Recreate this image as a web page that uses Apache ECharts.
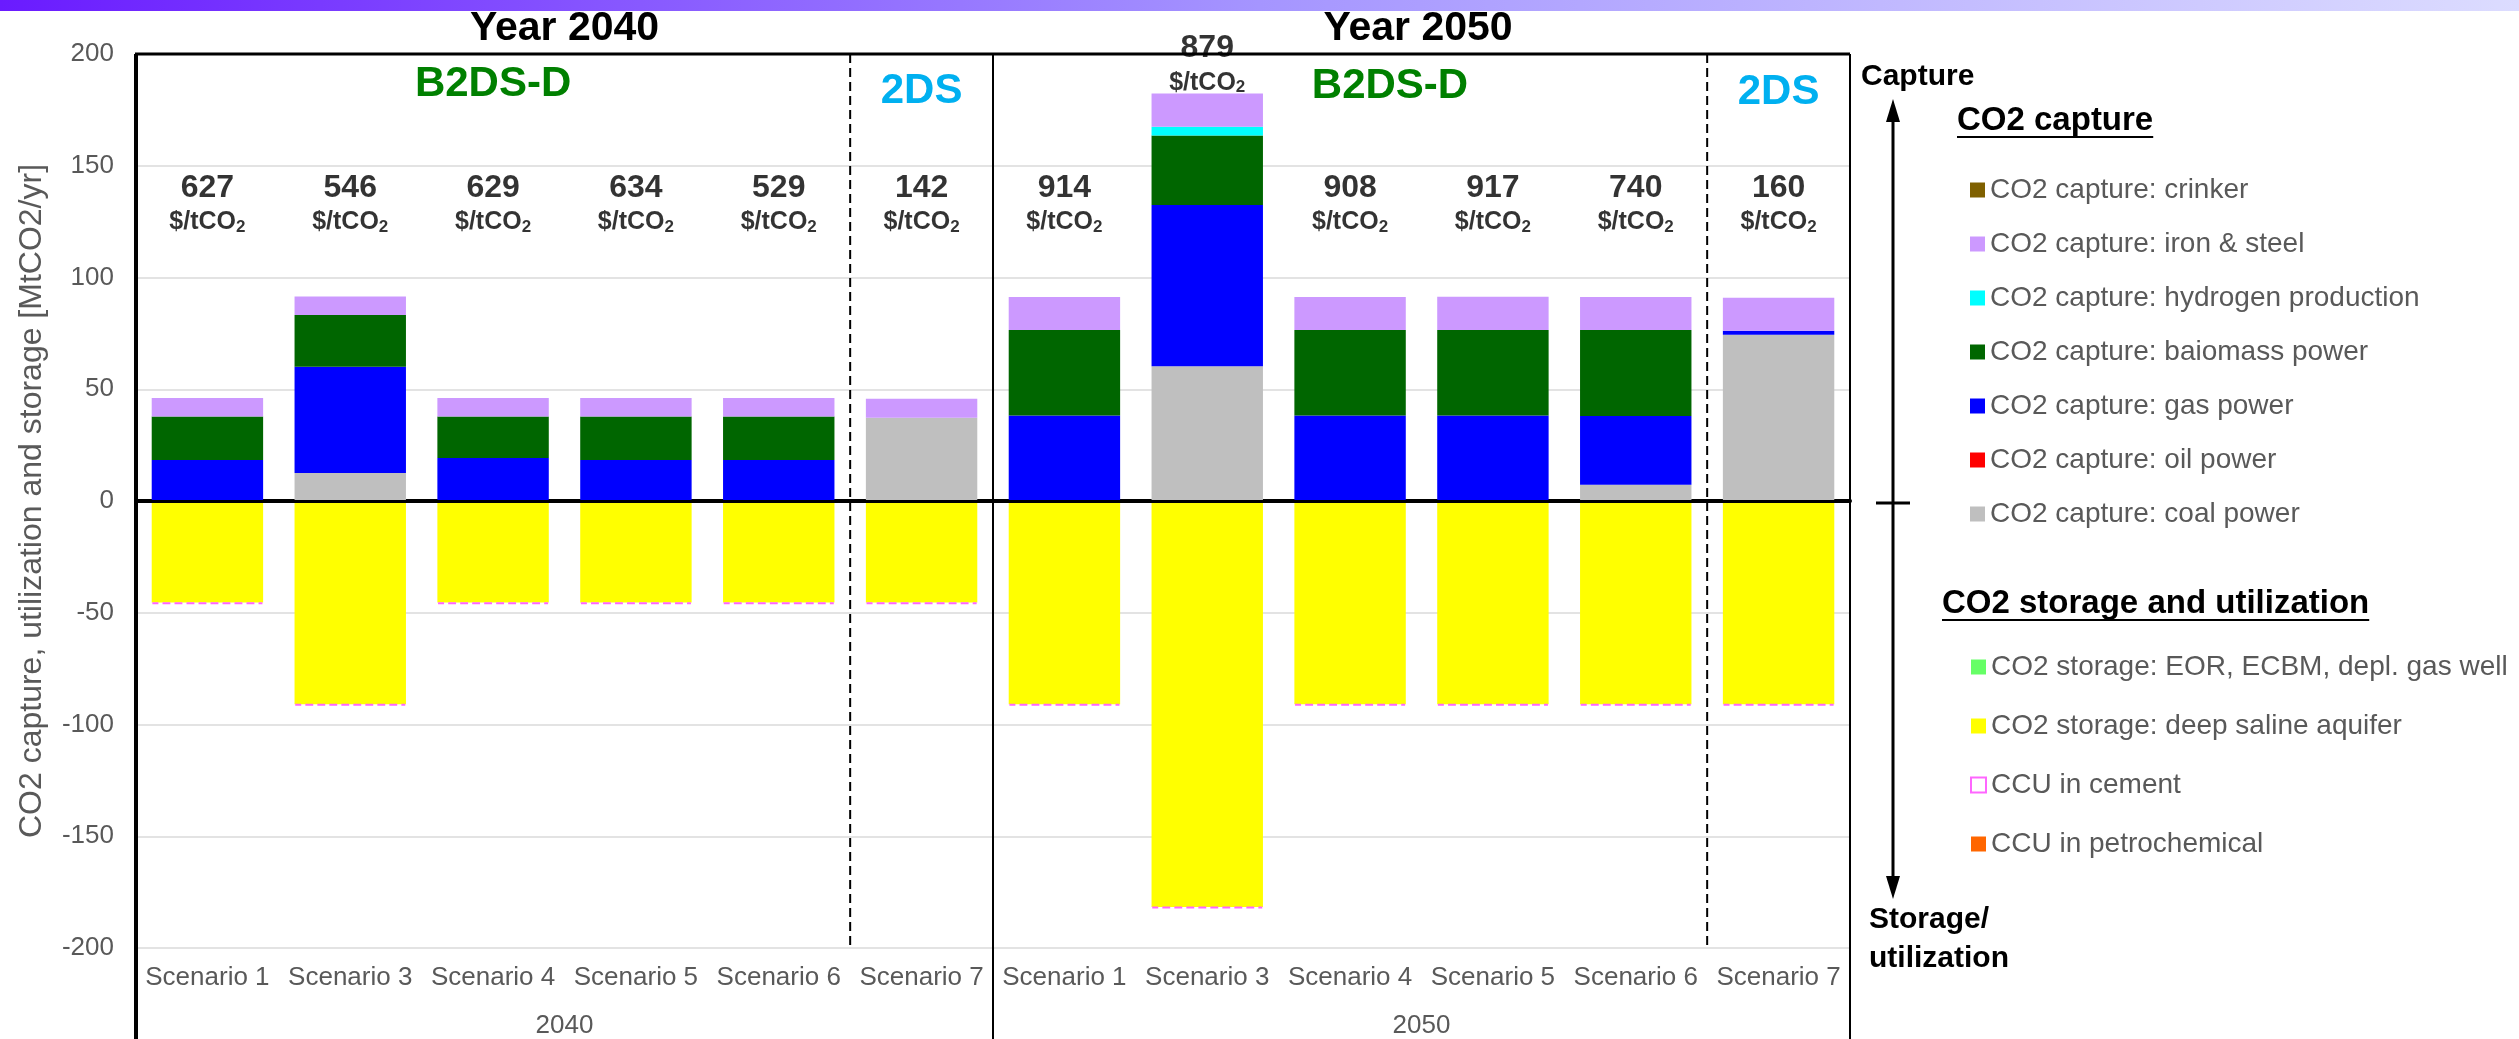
<!DOCTYPE html>
<html>
<head>
<meta charset="utf-8">
<script src="https://cdn.jsdelivr.net/npm/echarts@6.0.0/dist/echarts.min.js"></script>
<style>
  html, body { margin: 0; padding: 0; background: #fff; }
  #main { width: 2519px; height: 1039px; }
</style>
</head>
<body>
<div id="main"></div>
<script>
// categories
const years = ['2040', '2050'];
const scenarios = ['Scenario 1', 'Scenario 3', 'Scenario 4', 'Scenario 5', 'Scenario 6', 'Scenario 7'];

// cost of CO2 reduction [$ / tCO2] per bar
const costLabels = [627, 546, 629, 634, 529, 142, 914, 879, 908, 917, 740, 160];

// CO2 capture [MtCO2/yr], 2040 S1..S7 then 2050 S1..S7
const captureCrinker   = [0, 0, 0, 0, 0, 0, 0, 0, 0, 0, 0, 0];
const captureIronSteel = [8.3, 8.3, 8.3, 8.3, 8.3, 8.5, 14.8, 14.9, 14.8, 14.9, 14.8, 14.7];
const captureHydrogen  = [0, 0, 0, 0, 0, 0, 0, 3.9, 0, 0, 0, 0];
const captureBiomass   = [19.5, 23.1, 18.6, 19.5, 19.5, 0, 38.3, 31.1, 38.3, 38.3, 38.5, 0];
const captureGas       = [18.3, 47.6, 19.2, 18.3, 18.3, 0, 38.2, 72.1, 38.2, 38.2, 30.7, 1.8];
const captureOil       = [0, 0, 0, 0, 0, 0, 0, 0, 0, 0, 0, 0];
const captureCoal      = [0, 12.5, 0, 0, 0, 37.2, 0, 60.3, 0, 0, 7.3, 74.4];

// CO2 storage and utilization [MtCO2/yr]
const storageEor       = [0, 0, 0, 0, 0, 0, 0, 0, 0, 0, 0, 0];
const storageAquifer   = [-45.4, -90.9, -45.4, -45.4, -45.4, -45.4, -90.9, -181.6, -90.9, -90.9, -90.9, -90.9];
const ccuCement        = [-0.6, -0.6, -0.6, -0.6, -0.6, -0.6, -0.6, -0.6, -0.6, -0.6, -0.6, -0.6];
const ccuPetrochem     = [0, 0, 0, 0, 0, 0, 0, 0, 0, 0, 0, 0];

const FONT = "'Liberation Sans', Arial, sans-serif";
const GREY = '#595959';

// plot frame (pixels)
const L = 136, R = 1850, T = 54, B = 950, H = 1039;
const step = (R - L) / 12;

const cats = [];
years.forEach(y => scenarios.forEach(s => cats.push(y + '|' + s)));

function textWidth(str, font) {
  const ctx = document.createElement('canvas').getContext('2d');
  ctx.font = font;
  return ctx.measureText(str).width;
}

const captureSeries = [
  { name: 'CO2 capture: coal power', data: captureCoal, color: '#bfbfbf' },
  { name: 'CO2 capture: oil power', data: captureOil, color: '#ff0000' },
  { name: 'CO2 capture: gas power', data: captureGas, color: '#0000ff' },
  { name: 'CO2 capture: baiomass power', data: captureBiomass, color: '#006600' },
  { name: 'CO2 capture: hydrogen production', data: captureHydrogen, color: '#00ffff' },
  { name: 'CO2 capture: iron & steel', data: captureIronSteel, color: '#cc99ff' },
  { name: 'CO2 capture: crinker', data: captureCrinker, color: '#7f6000' }
];
const storageSeries = [
  { name: 'CO2 storage: EOR, ECBM, depl. gas well', data: storageEor, color: '#66ff66' },
  { name: 'CO2 storage: deep saline aquifer', data: storageAquifer, color: '#ffff00' },
  { name: 'CCU in cement', data: ccuCement, color: 'rgba(255,255,255,0)', border: '#ff66ff' },
  { name: 'CCU in petrochemical', data: ccuPetrochem, color: '#ff6600' }
];

const series = [];
captureSeries.concat(storageSeries).forEach(s => {
  const item = {
    name: s.name,
    type: 'bar',
    stack: 'total',
    barWidth: '78%',
    data: s.data,
    itemStyle: { color: s.color }
  };
  if (s.border) {
    item.itemStyle.borderColor = s.border;
    item.itemStyle.borderWidth = 2;
    item.itemStyle.borderType = [6, 6];
  }
  series.push(item);
});

// zero line
series[8].markLine = {
  silent: true,
  symbol: 'none',
  label: { show: false },
  lineStyle: { color: '#000', width: 3, type: 'solid' },
  data: [{ yAxis: 0 }]
};

// cost labels sit at a fixed height, or just above a bar that is taller
const capTop = cats.map((c, i) => captureSeries.reduce((a, s) => a + s.data[i], 0));
series.push({
  name: 'cost',
  type: 'scatter',
  symbolSize: 0,
  z: 10,
  data: cats.map((c, i) => [i, Math.max(132.5, capTop[i] + 12.5)]),
  label: {
    show: true,
    position: 'inside',
    formatter: p => '{n|' + costLabels[p.dataIndex] + '}\n{u|$/tCO}{s|2}',
    rich: {
      n: { fontSize: 32, fontWeight: 'bold', color: '#000', lineHeight: 34, fontFamily: FONT },
      u: { fontSize: 25, fontWeight: 'bold', color: '#000', lineHeight: 34, fontFamily: FONT },
      s: { fontSize: 17, fontWeight: 'bold', color: '#000', lineHeight: 34, padding: [10, 0, 0, 0], fontFamily: FONT }
    }
  }
});

const graphic = [];
// header band
graphic.push({
  type: 'rect', z: 100,
  shape: { x: 0, y: 0, width: 2519, height: 11 },
  style: {
    fill: new echarts.graphic.LinearGradient(0, 0, 1, 0, [
      { offset: 0, color: '#6a1bff' },
      { offset: 0.5, color: '#a595ff' },
      { offset: 1, color: '#dcdcff' }
    ])
  }
});

function text(str, x, y, size, color, align) {
  graphic.push({
    type: 'text', z: 100, x: x, y: y,
    style: { text: str, fontSize: size, fontWeight: 'bold', fill: color, fontFamily: FONT,
             align: align || 'center', verticalAlign: 'middle' }
  });
}
function line(x1, y1, x2, y2, w, dash) {
  graphic.push({
    type: 'line', z: 100,
    shape: { x1: x1, y1: y1, x2: x2, y2: y2 },
    style: { stroke: '#000', lineWidth: w, lineDash: dash || null }
  });
}

text('Year 2040', (L + L + 6 * step) / 2, 29, 41, '#000');
text('Year 2050', 1418, 29, 41, '#000');
text('B2DS-D', L + 2.5 * step, 84, 42, '#008000');
text('2DS', L + 5.5 * step, 91, 42, '#00b0f0');
text('B2DS-D', 1390, 86, 42, '#008000');
text('2DS', L + 11.5 * step, 92, 42, '#00b0f0');

// frame
line(L - 1, T, R, T, 3);
line(L, T, L, H, 4);
line(R, T, R, H, 2);
line(L + 6 * step, T, L + 6 * step, H, 2);
line(L + 5 * step, T, L + 5 * step, B, 2, [9, 5]);
line(L + 11 * step, T, L + 11 * step, B, 2, [9, 5]);

// capture / storage arrow
const AX = 1893;
line(AX, 118, AX, 880, 3);
graphic.push({ type: 'polygon', z: 100, shape: { points: [[AX - 7, 122], [AX + 7, 122], [AX, 99]] }, style: { fill: '#000' } });
graphic.push({ type: 'polygon', z: 100, shape: { points: [[AX - 7, 876], [AX + 7, 876], [AX, 899]] }, style: { fill: '#000' } });
line(1876, 503, 1910, 503, 3);
text('Capture', 1861, 77, 30, '#000', 'left');
text('Storage/', 1869, 920, 30, '#000', 'left');
text('utilization', 1869, 959, 30, '#000', 'left');

// legend headings, underlined
function heading(str, x, y) {
  text(str, x, y, 33, '#000', 'left');
  const w = textWidth(str, 'bold 33px ' + FONT);
  line(x, y + 16, x + w, y + 16, 2);
}
heading('CO2 capture', 1957, 121);
heading('CO2 storage and utilization', 1942, 604);

const legendBase = {
  orient: 'vertical',
  left: 1965,
  itemWidth: 15,
  itemHeight: 15,
  icon: 'rect',
  selectedMode: false,
  textStyle: { fontSize: 28, color: GREY, lineHeight: 30, fontFamily: FONT }
};

const option = {
  animation: false,
  backgroundColor: '#fff',
  textStyle: { fontFamily: FONT },
  grid: { left: L, right: 2519 - R, top: T, bottom: H - B },
  legend: [
    Object.assign({}, legendBase, {
      top: 170, itemGap: 24,
      data: captureSeries.slice().reverse().map(s => s.name)
    }),
    Object.assign({}, legendBase, {
      top: 647, itemGap: 29,
      data: storageSeries.map(s => s.name)
    })
  ],
  xAxis: [
    {
      type: 'category',
      data: cats,
      position: 'bottom',
      axisLine: { lineStyle: { color: '#000', width: 4 } },
      axisTick: { show: false },
      axisLabel: { interval: 0, margin: 17, fontSize: 26, color: GREY, formatter: v => v.split('|')[1] }
    },
    {
      type: 'category',
      data: years,
      position: 'bottom',
      axisLine: { show: false },
      axisTick: { show: true, length: H - B, lineStyle: { color: '#000', width: 2 } },
      axisLabel: { margin: 65, fontSize: 26, color: GREY }
    }
  ],
  yAxis: {
    type: 'value',
    min: -200,
    max: 200,
    interval: 50,
    name: 'CO2 capture, utilization and storage [MtCO2/yr]',
    nameLocation: 'middle',
    nameGap: 88,
    nameTextStyle: { fontSize: 32, color: GREY },
    axisLine: { show: false },
    axisTick: { show: false },
    axisLabel: { margin: 22, fontSize: 26, color: GREY },
    splitLine: { lineStyle: { color: '#e3e3e3', width: 2 } }
  },
  series: series,
  graphic: graphic
};

const chart = echarts.init(document.getElementById('main'));
chart.setOption(option);
</script>
</body>
</html>
